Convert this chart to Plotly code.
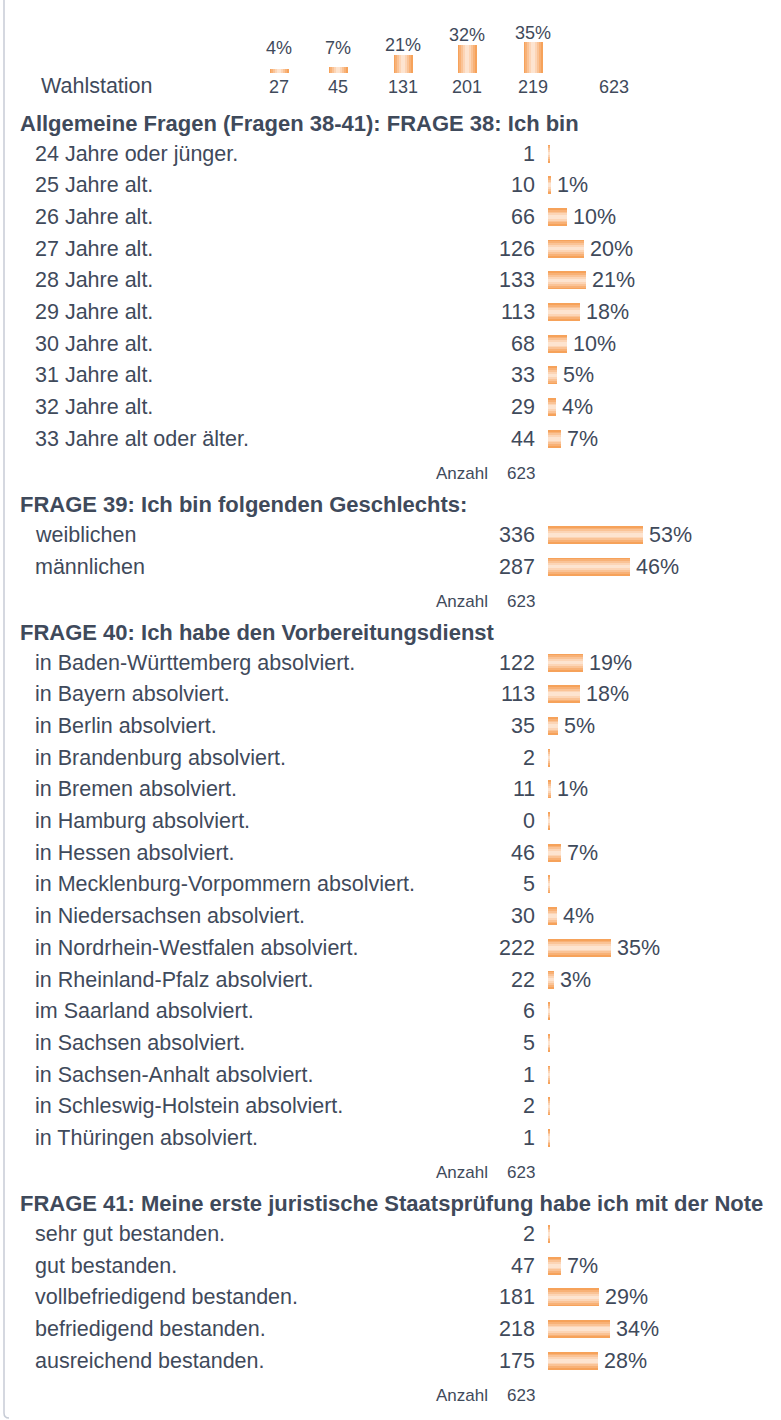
import math
import plotly.graph_objects as go

# ---- data -------------------------------------------------------------
TOTAL = 623

STATION_COUNTS = [27, 45, 131, 201, 219]

AGE_TITLE = "Allgemeine Fragen (Fragen 38-41): FRAGE 38: Ich bin"
AGE_LABELS = ["24 Jahre oder jünger.", "25 Jahre alt.", "26 Jahre alt.", "27 Jahre alt.",
              "28 Jahre alt.", "29 Jahre alt.", "30 Jahre alt.", "31 Jahre alt.",
              "32 Jahre alt.", "33 Jahre alt oder älter."]
AGE_COUNTS = [1, 10, 66, 126, 133, 113, 68, 33, 29, 44]

SEX_TITLE = "FRAGE 39: Ich bin folgenden Geschlechts:"
SEX_LABELS = ["weiblichen", "männlichen"]
SEX_COUNTS = [336, 287]

STATE_TITLE = "FRAGE 40: Ich habe den Vorbereitungsdienst"
STATE_LABELS = ["in Baden-Württemberg absolviert.", "in Bayern absolviert.",
                "in Berlin absolviert.", "in Brandenburg absolviert.",
                "in Bremen absolviert.", "in Hamburg absolviert.",
                "in Hessen absolviert.", "in Mecklenburg-Vorpommern absolviert.",
                "in Niedersachsen absolviert.", "in Nordrhein-Westfalen absolviert.",
                "in Rheinland-Pfalz absolviert.", "im Saarland absolviert.",
                "in Sachsen absolviert.", "in Sachsen-Anhalt absolviert.",
                "in Schleswig-Holstein absolviert.", "in Thüringen absolviert."]
STATE_COUNTS = [122, 113, 35, 2, 11, 0, 46, 5, 30, 222, 22, 6, 5, 1, 2, 1]

GRADE_TITLE = "FRAGE 41: Meine erste juristische Staatsprüfung habe ich mit der Note"
GRADE_LABELS = ["sehr gut bestanden.", "gut bestanden.", "vollbefriedigend bestanden.",
                "befriedigend bestanden.", "ausreichend bestanden."]
GRADE_COUNTS = [2, 47, 181, 218, 175]

# ---- layout constants (pixels) ---------------------------------------
W, H = 781, 1420
TEXT = "#3f4a5b"
FONT = "Liberation Sans, Arial, sans-serif"
STRIPES = ["#f6a25a", "#f8b176", "#fac396", "#fcd5b6", "#fde4d0"]

STATION_X = [279, 338, 403, 467, 533]
STATION_TOTAL_X = 614
STATION_BASE_Y = 73
STATION_VALUE_Y = 87
V_PX_PER_PCT = 0.88
STATION_BAR_W = 19
STATION_LABEL_MIN = 18.0   # percent labels never sit lower than this level

BAR_X0 = 548
H_PX_PER_PCT = 1.77
BAR_H = 18
MIN_PCT = 1.1
COUNT_RIGHT = 536
ANZ_RIGHT = 489
LABEL_X = 35
TITLE_X = 20

FS_ROW = 21.5
FS_TITLE = 22
FS_SMALL = 17
FS_TOP = 18

FIRST_TITLE_Y = 123
ROW_PITCH = 31.7
TITLE_TO_ROW = 30.5
ROW_TO_ANZ = 34.5
ANZ_TO_TITLE = 31

sections = [
    (AGE_TITLE, AGE_LABELS, AGE_COUNTS),
    (SEX_TITLE, SEX_LABELS, SEX_COUNTS),
    (STATE_TITLE, STATE_LABELS, STATE_COUNTS),
    (GRADE_TITLE, GRADE_LABELS, GRADE_COUNTS),
]


def share(c):
    return c / TOTAL * 100.0


def pct_text(c):
    return f"{math.floor(share(c))}%"


def note(**kw):
    kw.setdefault("showarrow", False)
    return kw


fig = go.Figure()
ann = []
n = len(STRIPES)

# ---- station summary (vertical bars, own y axis in percent) ----------
st_pct = [share(c) for c in STATION_COUNTS]
for i, col in enumerate(STRIPES):
    w = STATION_BAR_W * (n - i) / n
    fig.add_trace(go.Bar(
        x=STATION_X, y=st_pct, width=w, orientation="v",
        marker=dict(color=col, line=dict(width=0)),
        xaxis="x", yaxis="y2", hoverinfo="skip", showlegend=False))
for xp, c, p in zip(STATION_X, STATION_COUNTS, st_pct):
    ann.append(note(x=xp, y=max(p, STATION_LABEL_MIN), xref="x", yref="y2",
                    text=pct_text(c), xanchor="center", yanchor="bottom", yshift=-2.5,
                    font=dict(size=FS_TOP, color=TEXT)))
    ann.append(note(x=xp, y=STATION_VALUE_Y, xref="x", yref="y", text=str(c),
                    xanchor="center", yanchor="middle",
                    font=dict(size=FS_TOP, color=TEXT)))
ann.append(note(x=STATION_TOTAL_X, y=STATION_VALUE_Y, xref="x", yref="y",
                text=str(sum(STATION_COUNTS)), xanchor="center", yanchor="middle",
                font=dict(size=FS_TOP, color=TEXT)))
ann.append(note(x=41, y=STATION_VALUE_Y - 1, xref="x", yref="y", text="Wahlstation",
                xanchor="left", yanchor="middle", xshift=-2,
                font=dict(size=FS_ROW, color=TEXT)))

# ---- question blocks (horizontal bars) -------------------------------
bar_y, bar_len = [], []
y = FIRST_TITLE_Y
for title, labels, counts in sections:
    ann.append(note(x=TITLE_X, y=y, xref="x", yref="y", text=f"<b>{title}</b>",
                    xanchor="left", yanchor="middle", xshift=-2,
                    font=dict(size=FS_TITLE, color=TEXT)))
    ry = y + TITLE_TO_ROW
    for k, (lab, c) in enumerate(zip(labels, counts)):
        if k:
            ry += ROW_PITCH
        p = share(c)
        bar_y.append(ry)
        bar_len.append(max(p, MIN_PCT))
        ann.append(note(x=LABEL_X, y=ry, xref="x", yref="y", text=lab,
                        xanchor="left", yanchor="middle", xshift=-2,
                        font=dict(size=FS_ROW, color=TEXT)))
        ann.append(note(x=COUNT_RIGHT, y=ry, xref="x", yref="y", text=str(c),
                        xanchor="right", yanchor="middle", xshift=1,
                        font=dict(size=FS_ROW, color=TEXT)))
        if math.floor(p) >= 1:
            ann.append(note(x=max(p, MIN_PCT), y=ry, xref="x2", yref="y", text=pct_text(c),
                            xanchor="left", yanchor="middle", xshift=4,
                            font=dict(size=FS_ROW, color=TEXT)))
    ay = ry + ROW_TO_ANZ
    ann.append(note(x=ANZ_RIGHT, y=ay, xref="x", yref="y", text="Anzahl",
                    xanchor="right", yanchor="middle", xshift=1,
                    font=dict(size=FS_SMALL, color=TEXT)))
    ann.append(note(x=COUNT_RIGHT, y=ay, xref="x", yref="y", text=str(sum(counts)),
                    xanchor="right", yanchor="middle", xshift=1,
                    font=dict(size=FS_SMALL, color=TEXT)))
    y = ay + ANZ_TO_TITLE

for i, col in enumerate(STRIPES):
    h = BAR_H * (n - i) / n
    fig.add_trace(go.Bar(
        x=bar_len, y=bar_y, width=h, orientation="h",
        marker=dict(color=col, line=dict(width=0)),
        xaxis="x2", yaxis="y", hoverinfo="skip", showlegend=False))

# ---- frame line on the left ------------------------------------------
shapes = [dict(type="path", xref="x", yref="y",
               path="M 4 0 L 4 1413 Q 4 1418 9 1418",
               line=dict(color="#c7ccd6", width=1.5))]

hidden = dict(visible=False, showgrid=False, zeroline=False, fixedrange=True)
top_frac = STATION_BASE_Y / H
fig.update_layout(
    width=W, height=H,
    margin=dict(l=0, r=0, t=0, b=0),
    paper_bgcolor="white", plot_bgcolor="rgba(0,0,0,0)",
    barmode="overlay", bargap=0,
    font=dict(family=FONT, color=TEXT),
    xaxis=dict(range=[0, W], domain=[0, 1], anchor="y", **hidden),
    yaxis=dict(range=[H, 0], domain=[0, 1], anchor="x", **hidden),
    xaxis2=dict(range=[-BAR_X0 / H_PX_PER_PCT, (W - BAR_X0) / H_PX_PER_PCT],
                overlaying="x", anchor="y", **hidden),
    yaxis2=dict(range=[0, STATION_BASE_Y / V_PX_PER_PCT], domain=[1 - top_frac, 1],
                anchor="x", **hidden),
    annotations=ann,
    shapes=shapes,
)

fig.write_html("out.html")
